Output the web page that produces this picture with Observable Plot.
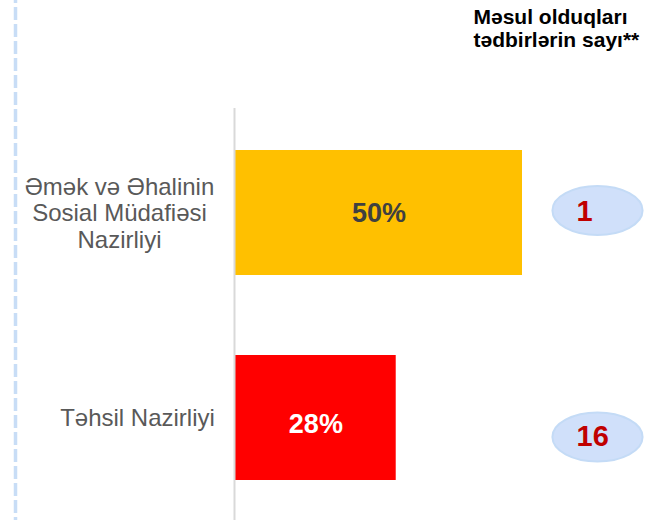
<!DOCTYPE html>
<html>
<head>
<meta charset="utf-8">
<script src="https://cdn.jsdelivr.net/npm/d3@7"></script>
<script src="https://cdn.jsdelivr.net/npm/@observablehq/plot@0.6"></script>
<style>
  html, body { margin: 0; padding: 0; background: #fff; }
  #chart svg { display: block; }
</style>
</head>
<body>
<div id="chart"></div>
<script>
// ---- data ----
const categories = ["Əmək və Əhalinin\nSosial Müdafiəsi\nNazirliyi", "Təhsil Nazirliyi"];
const shares = [50, 28];            // percent
const counts = [1, 16];             // Məsul olduqları tədbirlərin sayı
const barColors = ["#FFC000", "#FF0000"];
const shareLabelColors = ["#404040", "#FFFFFF"];
const header = "Məsul olduqları\ntədbirlərin sayı**";

const rows = categories.map((name, i) => ({
  name, share: shares[i], count: counts[i], color: barColors[i], labelColor: shareLabelColors[i]
}));

const font = "'Liberation Sans', Arial, sans-serif";

// ellipse symbol for the count badges
const ellipse = {
  draw(ctx, size) {
    const ry = Math.sqrt(size / Math.PI), rx = ry * 1.84, k = 0.5522847;
    ctx.moveTo(rx, 0);
    ctx.bezierCurveTo(rx, ry * k, rx * k, ry, 0, ry);
    ctx.bezierCurveTo(-rx * k, ry, -rx, ry * k, -rx, 0);
    ctx.bezierCurveTo(-rx, -ry * k, -rx * k, -ry, 0, -ry);
    ctx.bezierCurveTo(rx * k, -ry, rx, -ry * k, rx, 0);
    ctx.closePath();
  }
};

const labelOffsets = [-116, -98];
const shareDy = [0, 6];
const badgeDy = [-2.5, 19];
const countDy = [-1.5, 19];

const chart = Plot.plot({
  width: 645,
  height: 520,
  marginLeft: 235,
  marginRight: 0,
  marginTop: 0,
  marginBottom: 0,
  style: { fontFamily: font, background: "#fff" },
  x: { domain: [0, 71.43], axis: null },
  y: { domain: categories, range: [149, 481], paddingInner: 0.388, paddingOuter: 0, axis: null },
  color: { type: "identity" },
  marks: [
    // left decorative dashed border
    Plot.ruleX([0], { dx: -220, stroke: "#c8ddf6", strokeWidth: 3.5, strokeDasharray: "13 4", strokeDashoffset: 10 }),
    // bars
    Plot.barX(rows, { x: "share", y: "name", fill: "color" }),
    // axis line
    Plot.ruleX([0], { insetTop: 108, dx: -1, stroke: "#d9d9d9", strokeWidth: 2 }),
    // share labels
    ...rows.map((r, i) => Plot.text([r], {
      x: d => d.share / 2, y: "name", text: d => d.share + "%", dy: shareDy[i],
      fill: "labelColor", fontSize: 27, fontWeight: "bold"
    })),
    // category labels
    ...rows.map((r, i) => Plot.text([r], {
      y: "name", text: "name", frameAnchor: "left", textAnchor: "middle",
      dx: labelOffsets[i], fill: "#595959", fontSize: 24, lineHeight: 1.1
    })),
    // count badges
    ...rows.map((r, i) => Plot.dot([r], {
      y: "name", frameAnchor: "right", dx: -48, dy: badgeDy[i], r: 24.5,
      symbol: ellipse, fill: "#d0e0fa", stroke: "#c4dbf6", strokeWidth: 2
    })),
    ...rows.map((r, i) => Plot.text([r], {
      y: "name", text: d => String(d.count), frameAnchor: "right", textAnchor: "start",
      dx: -69, dy: countDy[i], fill: "#C00000", fontSize: 29, fontWeight: "bold"
    })),
    // header
    Plot.text([header], {
      text: d => d, frameAnchor: "top-right", textAnchor: "start", lineAnchor: "top",
      dx: -172, dy: 7, fill: "#000", fontSize: 21, fontWeight: "bold", lineHeight: 1.1
    })
  ]
});

document.getElementById("chart").appendChild(chart);
</script>
</body>
</html>
